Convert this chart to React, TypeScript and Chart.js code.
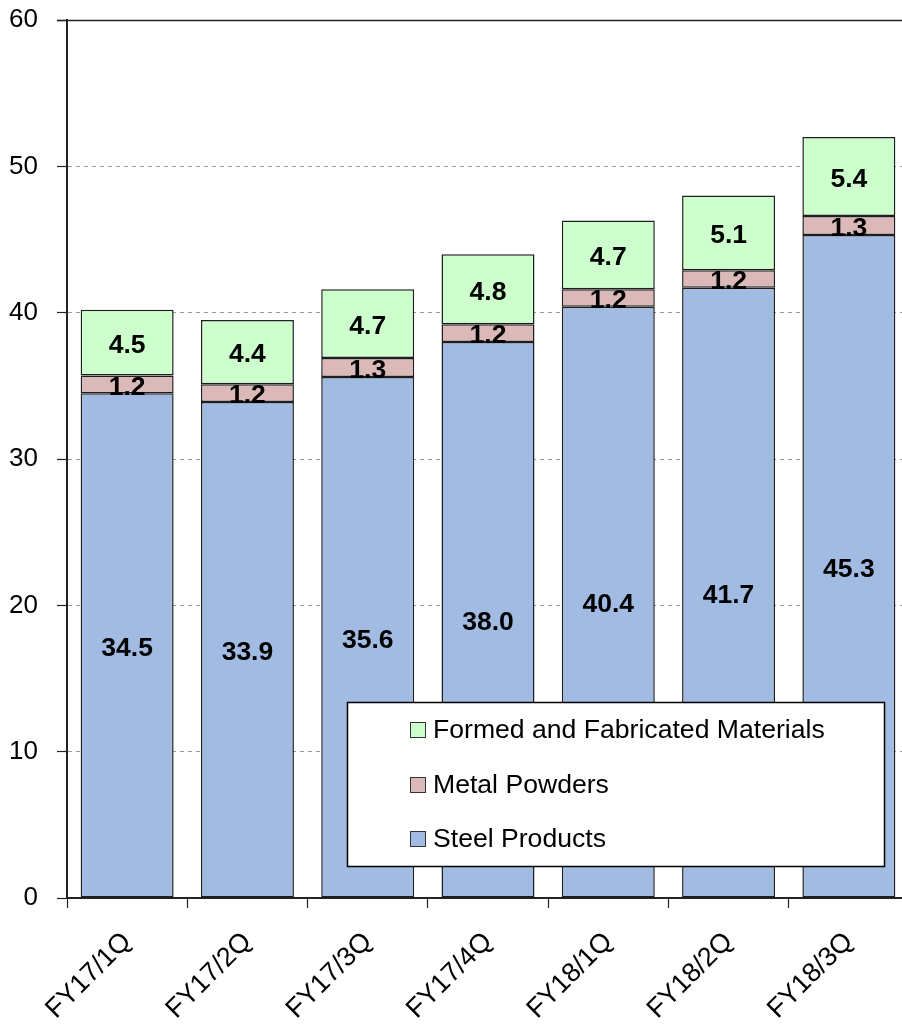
import React, { useEffect, useRef } from "react";
import { Chart, registerables } from "chart.js";

Chart.register(...registerables);

// Quarterly sales by segment (billions)
const categories = ["FY17/1Q", "FY17/2Q", "FY17/3Q", "FY17/4Q", "FY18/1Q", "FY18/2Q", "FY18/3Q"];
const steelProducts = [34.5, 33.9, 35.6, 38.0, 40.4, 41.7, 45.3];
const metalPowders = [1.2, 1.2, 1.3, 1.2, 1.2, 1.2, 1.3];
const formedMaterials = [4.5, 4.4, 4.7, 4.8, 4.7, 5.1, 5.4];
const seriesNames = ["Steel Products", "Metal Powders", "Formed and Fabricated Materials"];
const yMin = 0;
const yMax = 60;
const yStep = 10;

const FONT = "'Liberation Sans', Arial, Helvetica, sans-serif";
const COLORS = ["#A1BBE2", "#DCB9B9", "#CCFFCC"];

// Numbers centred inside every stacked segment
const valueLabels = {
  id: "valueLabels",
  afterDatasetsDraw(chart: any) {
    const ctx = chart.ctx;
    ctx.save();
    ctx.font = `bold 26.5px ${FONT}`;
    ctx.fillStyle = "#000";
    ctx.textAlign = "center";
    ctx.textBaseline = "middle";
    chart.data.datasets.forEach((ds: any, i: number) => {
      const meta = chart.getDatasetMeta(i);
      meta.data.forEach((el: any, j: number) => {
        const v = ds.data[j] as number;
        const { x, y, base } = el.getProps(["x", "y", "base"], true);
        ctx.fillText(v.toFixed(1), x, (y + base) / 2 + 3);
      });
    });
    ctx.restore();
  },
};

// Solid frame line along the top of the plot, and the boxed legend inside the plot
const frameAndLegend = {
  id: "frameAndLegend",
  afterDraw(chart: any) {
    const ctx = chart.ctx;
    const area = chart.chartArea;
    const yScale = chart.scales.y;
    const yTop = Math.round(yScale.getPixelForValue(yMax)) + 0.5;
    ctx.save();
    ctx.strokeStyle = "#222";
    ctx.lineWidth = 1.5;
    ctx.beginPath();
    ctx.moveTo(area.left - 10, yTop);
    ctx.lineTo(area.right, yTop);
    ctx.stroke();

    // legend box
    const bx = 347.5;
    const by = 702.5;
    const bw = 537;
    const bh = 164;
    ctx.fillStyle = "#fff";
    ctx.fillRect(bx, by, bw, bh);
    ctx.strokeStyle = "#000";
    ctx.lineWidth = 1.5;
    ctx.strokeRect(bx, by, bw, bh);

    ctx.font = `26.6px ${FONT}`;
    ctx.textAlign = "left";
    ctx.textBaseline = "middle";
    const rows = [730, 785, 839];
    const order = [2, 1, 0];
    order.forEach((dsIndex, r) => {
      const ds = chart.data.datasets[dsIndex];
      const cy = rows[r];
      ctx.fillStyle = ds.backgroundColor;
      ctx.fillRect(410, cy - 8, 16, 16);
      ctx.strokeStyle = "#333";
      ctx.lineWidth = 1;
      ctx.strokeRect(410.5, cy - 7.5, 15, 15);
      ctx.fillStyle = "#000";
      ctx.fillText(ds.label, 433, cy + 1);
    });
    ctx.restore();
  },
};

export default function App() {
  const canvasRef = useRef<HTMLCanvasElement | null>(null);

  useEffect(() => {
    if (!canvasRef.current) return;
    Chart.defaults.font.family = FONT;
    const chart = new Chart(canvasRef.current, {
      type: "bar",
      data: {
        labels: categories,
        datasets: [steelProducts, metalPowders, formedMaterials].map((d, i) => ({
          label: seriesNames[i],
          data: d,
          backgroundColor: COLORS[i],
          borderColor: "#1e1e1e",
          borderWidth: 1.5,
          borderSkipped: false,
          categoryPercentage: 1,
          barPercentage: 0.773,
        })),
      },
      options: {
        responsive: false,
        animation: false,
        devicePixelRatio: 1,
        layout: { padding: { top: 20, right: 11, left: 0, bottom: 0 } },
        plugins: {
          legend: { display: false },
          tooltip: { enabled: false },
          title: { display: false },
        },
        scales: {
          x: {
            stacked: true,
            grid: {
              offset: true,
              drawOnChartArea: false,
              drawTicks: true,
              tickLength: 10,
              tickColor: "#222",
              tickWidth: 1.2,
              color: "#222",
            },
            border: { color: "#222", width: 2 },
            ticks: {
              color: "#000",
              font: { size: 27, family: FONT },
              minRotation: 45,
              maxRotation: 45,
              padding: 18,
              autoSkip: false,
            },
            afterFit(scale: any) {
              scale.height = 126;
              scale.paddingLeft = 0;
              scale.paddingRight = 0;
            },
          },
          y: {
            stacked: true,
            min: yMin,
            max: yMax,
            grid: {
              color: (c: any) => (c.tick && (c.tick.value === yMin || c.tick.value === yMax) ? "rgba(0,0,0,0)" : "#9a9a9a"),
              lineWidth: 1,
              tickLength: 10,
              tickColor: "#222",
              tickWidth: 1.2,
              tickBorderDash: [],
            },
            border: { color: "#222", width: 2, dash: [4, 4] },
            ticks: {
              stepSize: yStep,
              color: "#000",
              font: { size: 26, family: FONT },
              padding: 19,
            },
            afterFit(scale: any) {
              scale.width = 67;
              scale.paddingTop = 0;
              scale.paddingBottom = 0;
            },
          },
        },
      },
      plugins: [valueLabels, frameAndLegend],
    } as any);
    return () => chart.destroy();
  }, []);

  return (
    <div
      style={{
        position: "absolute",
        left: 0,
        top: 0,
        width: 902,
        height: 1024,
        overflow: "hidden",
        background: "#fff",
      }}
    >
      <canvas ref={canvasRef} width={920} height={1024} style={{ display: "block" }} />
    </div>
  );
}
